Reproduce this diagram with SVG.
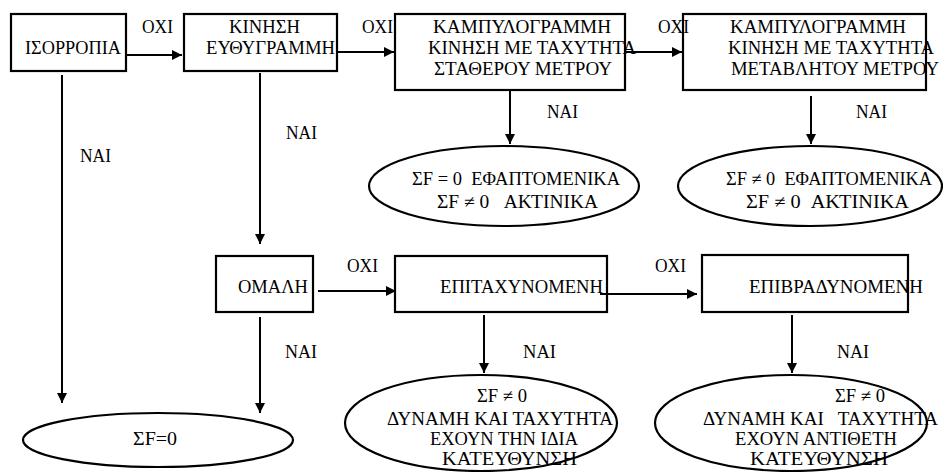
<svg xmlns="http://www.w3.org/2000/svg" width="943" height="472" viewBox="0 0 943 472">
<defs>
<marker id="ah" markerUnits="userSpaceOnUse" markerWidth="10" markerHeight="10" refX="10" refY="5" orient="auto">
<path d="M0,0 L10,5 L0,10 z" fill="#000"/>
</marker>
<style>
text{font-family:"Liberation Serif","Times New Roman",serif;font-size:18.5px;fill:#000;white-space:pre}
.box{fill:#fff;stroke:#000;stroke-width:2.2}
.ell{fill:#fff;stroke:#000;stroke-width:2.2}
.con line{stroke:#000;stroke-width:2;marker-end:url(#ah)}
</style>
</defs>
<rect width="943" height="472" fill="#fff"/>

<g id="n-isorropia">
<rect class="box" x="11" y="14" width="115" height="57"/>
<text x="25" y="54" textLength="96" lengthAdjust="spacingAndGlyphs">ΙΣΟΡΡΟΠΙΑ</text>
</g>
<g id="n-eythygrammi">
<rect class="box" x="184" y="14" width="153" height="57"/>
<text x="229" y="33" textLength="71" lengthAdjust="spacingAndGlyphs">ΚΙΝΗΣΗ</text>
<text x="206" y="54" textLength="129" lengthAdjust="spacingAndGlyphs">ΕΥΘΥΓΡΑΜΜΗ</text>
</g>
<g id="n-kampyl-statheri">
<rect class="box" x="395" y="14" width="230" height="76"/>
<text x="433" y="33" textLength="178" lengthAdjust="spacingAndGlyphs">ΚΑΜΠΥΛΟΓΡΑΜΜΗ</text>
<text x="428" y="54" textLength="208" lengthAdjust="spacingAndGlyphs">ΚΙΝΗΣΗ ΜΕ ΤΑΧΥΤΗΤΑ</text>
<text x="434" y="75" textLength="178" lengthAdjust="spacingAndGlyphs">ΣΤΑΘΕΡΟΥ ΜΕΤΡΟΥ</text>
</g>
<g id="n-kampyl-metavliti">
<rect class="box" x="683" y="14" width="243" height="76"/>
<text x="730" y="33" textLength="176" lengthAdjust="spacingAndGlyphs">ΚΑΜΠΥΛΟΓΡΑΜΜΗ</text>
<text x="728" y="54" textLength="206" lengthAdjust="spacingAndGlyphs">ΚΙΝΗΣΗ ΜΕ ΤΑΧΥΤΗΤΑ</text>
<text x="731" y="75" textLength="208" lengthAdjust="spacingAndGlyphs">ΜΕΤΑΒΛΗΤΟΥ ΜΕΤΡΟΥ</text>
</g>
<g id="n-omali">
<rect class="box" x="216" y="256" width="97" height="56"/>
<text x="238" y="293" textLength="70" lengthAdjust="spacingAndGlyphs">ΟΜΑΛΗ</text>
</g>
<g id="n-epitaxynomeni">
<rect class="box" x="395" y="256" width="212" height="56"/>
<text x="440" y="293" textLength="163" lengthAdjust="spacingAndGlyphs">ΕΠΙΤΑΧΥΝΟΜΕΝΗ</text>
</g>
<g id="n-epivradynomeni">
<rect class="box" x="702" y="255" width="206" height="57"/>
<text x="749" y="293" textLength="174" lengthAdjust="spacingAndGlyphs">ΕΠΙΒΡΑΔΥΝΟΜΕΝΗ</text>
</g>

<g id="n-sf0">
<ellipse class="ell" cx="158" cy="440" rx="135" ry="27"/>
<text x="133" y="445" textLength="44" lengthAdjust="spacingAndGlyphs">ΣF=0</text>
</g>
<g id="n-e1">
<ellipse class="ell" cx="504" cy="186" rx="135" ry="40"/>
<text x="412" y="185" textLength="208" lengthAdjust="spacingAndGlyphs">ΣF = 0  ΕΦΑΠΤΟΜΕΝΙΚΑ</text>
<text x="437" y="208" textLength="161" lengthAdjust="spacingAndGlyphs">ΣF ≠ 0   ΑΚΤΙΝΙΚΑ</text>
</g>
<g id="n-e2">
<ellipse class="ell" cx="810" cy="186" rx="132" ry="40"/>
<text x="726" y="185" textLength="206" lengthAdjust="spacingAndGlyphs">ΣF ≠ 0  ΕΦΑΠΤΟΜΕΝΙΚΑ</text>
<text x="746" y="208" textLength="163" lengthAdjust="spacingAndGlyphs">ΣF ≠ 0  ΑΚΤΙΝΙΚΑ</text>
</g>
<g id="n-e3">
<ellipse class="ell" cx="481" cy="423" rx="136" ry="48"/>
<text x="477" y="402" textLength="50" lengthAdjust="spacingAndGlyphs">ΣF ≠ 0</text>
<text x="387" y="425" textLength="226" lengthAdjust="spacingAndGlyphs">ΔΥΝΑΜΗ ΚΑΙ ΤΑΧΥΤΗΤΑ</text>
<text x="430" y="445" textLength="148" lengthAdjust="spacingAndGlyphs">ΕΧΟΥΝ ΤΗΝ ΙΔΙΑ</text>
<text x="442" y="465" textLength="135" lengthAdjust="spacingAndGlyphs">ΚΑΤΕΥΘΥΝΣΗ</text>
</g>
<g id="n-e4">
<ellipse class="ell" cx="791" cy="423" rx="136" ry="48"/>
<text x="835" y="402" textLength="50" lengthAdjust="spacingAndGlyphs">ΣF ≠ 0</text>
<text x="703" y="425" textLength="235" lengthAdjust="spacingAndGlyphs">ΔΥΝΑΜΗ ΚΑΙ   ΤΑΧΥΤΗΤΑ</text>
<text x="735" y="445" textLength="162" lengthAdjust="spacingAndGlyphs">ΕΧΟΥΝ ΑΝΤΙΘΕΤΗ</text>
<text x="750" y="465" textLength="138" lengthAdjust="spacingAndGlyphs">ΚΑΤΕΥΘΥΝΣΗ</text>
</g>

<g id="connectors" class="con">
<line x1="127" y1="55" x2="182" y2="55"/>
<line x1="337" y1="52" x2="394" y2="52"/>
<line x1="624" y1="52" x2="682" y2="52"/>
<line x1="62" y1="75" x2="62" y2="403"/>
<line x1="260" y1="73" x2="260" y2="244"/>
<line x1="510" y1="90" x2="510" y2="144"/>
<line x1="811" y1="96" x2="811" y2="144"/>
<line x1="318" y1="291" x2="396" y2="291"/>
<line x1="600" y1="294" x2="697" y2="294"/>
<line x1="260" y1="317" x2="260" y2="413"/>
<line x1="484" y1="315" x2="484" y2="373"/>
<line x1="792" y1="315" x2="792" y2="373"/>
</g>

<g id="labels">
<text x="142" y="33" textLength="31" lengthAdjust="spacingAndGlyphs">ΟΧΙ</text>
<text x="362" y="33" textLength="31" lengthAdjust="spacingAndGlyphs">ΟΧΙ</text>
<text x="658" y="33" textLength="31" lengthAdjust="spacingAndGlyphs">ΟΧΙ</text>
<text x="347" y="272" textLength="31" lengthAdjust="spacingAndGlyphs">ΟΧΙ</text>
<text x="655" y="272" textLength="31" lengthAdjust="spacingAndGlyphs">ΟΧΙ</text>
<text x="80" y="162" textLength="31" lengthAdjust="spacingAndGlyphs">ΝΑΙ</text>
<text x="286" y="139" textLength="31" lengthAdjust="spacingAndGlyphs">ΝΑΙ</text>
<text x="547" y="118" textLength="31" lengthAdjust="spacingAndGlyphs">ΝΑΙ</text>
<text x="856" y="118" textLength="31" lengthAdjust="spacingAndGlyphs">ΝΑΙ</text>
<text x="285" y="358" textLength="32" lengthAdjust="spacingAndGlyphs">ΝΑΙ</text>
<text x="523" y="358" textLength="33" lengthAdjust="spacingAndGlyphs">ΝΑΙ</text>
<text x="837" y="358" textLength="32" lengthAdjust="spacingAndGlyphs">ΝΑΙ</text>
</g>
</svg>
